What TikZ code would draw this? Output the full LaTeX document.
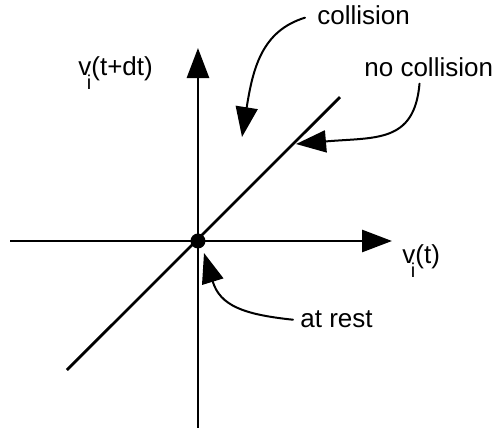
\documentclass[tikz,border=0pt]{standalone}
\usepackage{fontspec}
\setmainfont{Liberation Sans}
\usetikzlibrary{arrows.meta}
\tikzset{
  every picture/.style={line join=round, line cap=round, >={Triangle[length=15pt,width=11pt]}},
  axis/.style={line width=1.4pt, line cap=butt},
  pointer/.style={line width=1pt, ->},
  lbl/.style={font=\fontsize{13}{16}\selectfont, inner sep=0pt, anchor=base west},
}
\newcommand{\subi}[1]{\llap{\raisebox{#1}{\fontsize{10}{12}\selectfont i}}}

\begin{document}
\begin{tikzpicture}
\useasboundingbox (0,0) rectangle (8.734,7.574);
\coordinate (o) at (3.479,3.339);
\coordinate (xl) at (0.176,3.339);
\coordinate (xr) at (6.889,3.339);
\coordinate (yb) at (3.479,0.053);
\coordinate (yt) at (3.479,6.730);
\coordinate (dl) at (1.177,1.072);
\coordinate (du) at (5.975,5.869);
\draw[axis,->] (xl) -- (xr);
\draw[axis,->] (yb) -- (yt);
\draw[axis] (dl) -- (du);
\fill (o) circle[radius=3.75pt];
\node[lbl] (vy) at (1.371,6.256) {v\subi{-7pt}(t+dt)};
\node[lbl] (vx) at (7.064,2.952) {v\subi{-7pt}(t)};
\node[lbl] (coll) at (5.571,7.135) {collision};
\node[lbl] (nocoll) at (6.397,6.221) {no collision};
\node[lbl] (rest) at (5.272,1.810) {at rest};
\coordinate (tcoll) at (4.253,5.166);
\coordinate (tnocoll) at (5.202,5.043);
\coordinate (trest) at (3.585,3.128);
\draw[pointer] ([xshift=-6pt,yshift=-1pt]coll.west) to[out=197,in=81,out distance=22.5pt,in distance=35pt] (tcoll);
\draw[pointer] ([xshift=-4.6pt,yshift=-3pt]nocoll.south) to[out=265,in=5,out distance=30pt,in distance=40pt] (tnocoll);
\draw[pointer] ([xshift=-3.5pt]rest.west) to[out=174,in=287,out distance=25pt,in distance=27.5pt] (trest);
\end{tikzpicture}
\end{document}
